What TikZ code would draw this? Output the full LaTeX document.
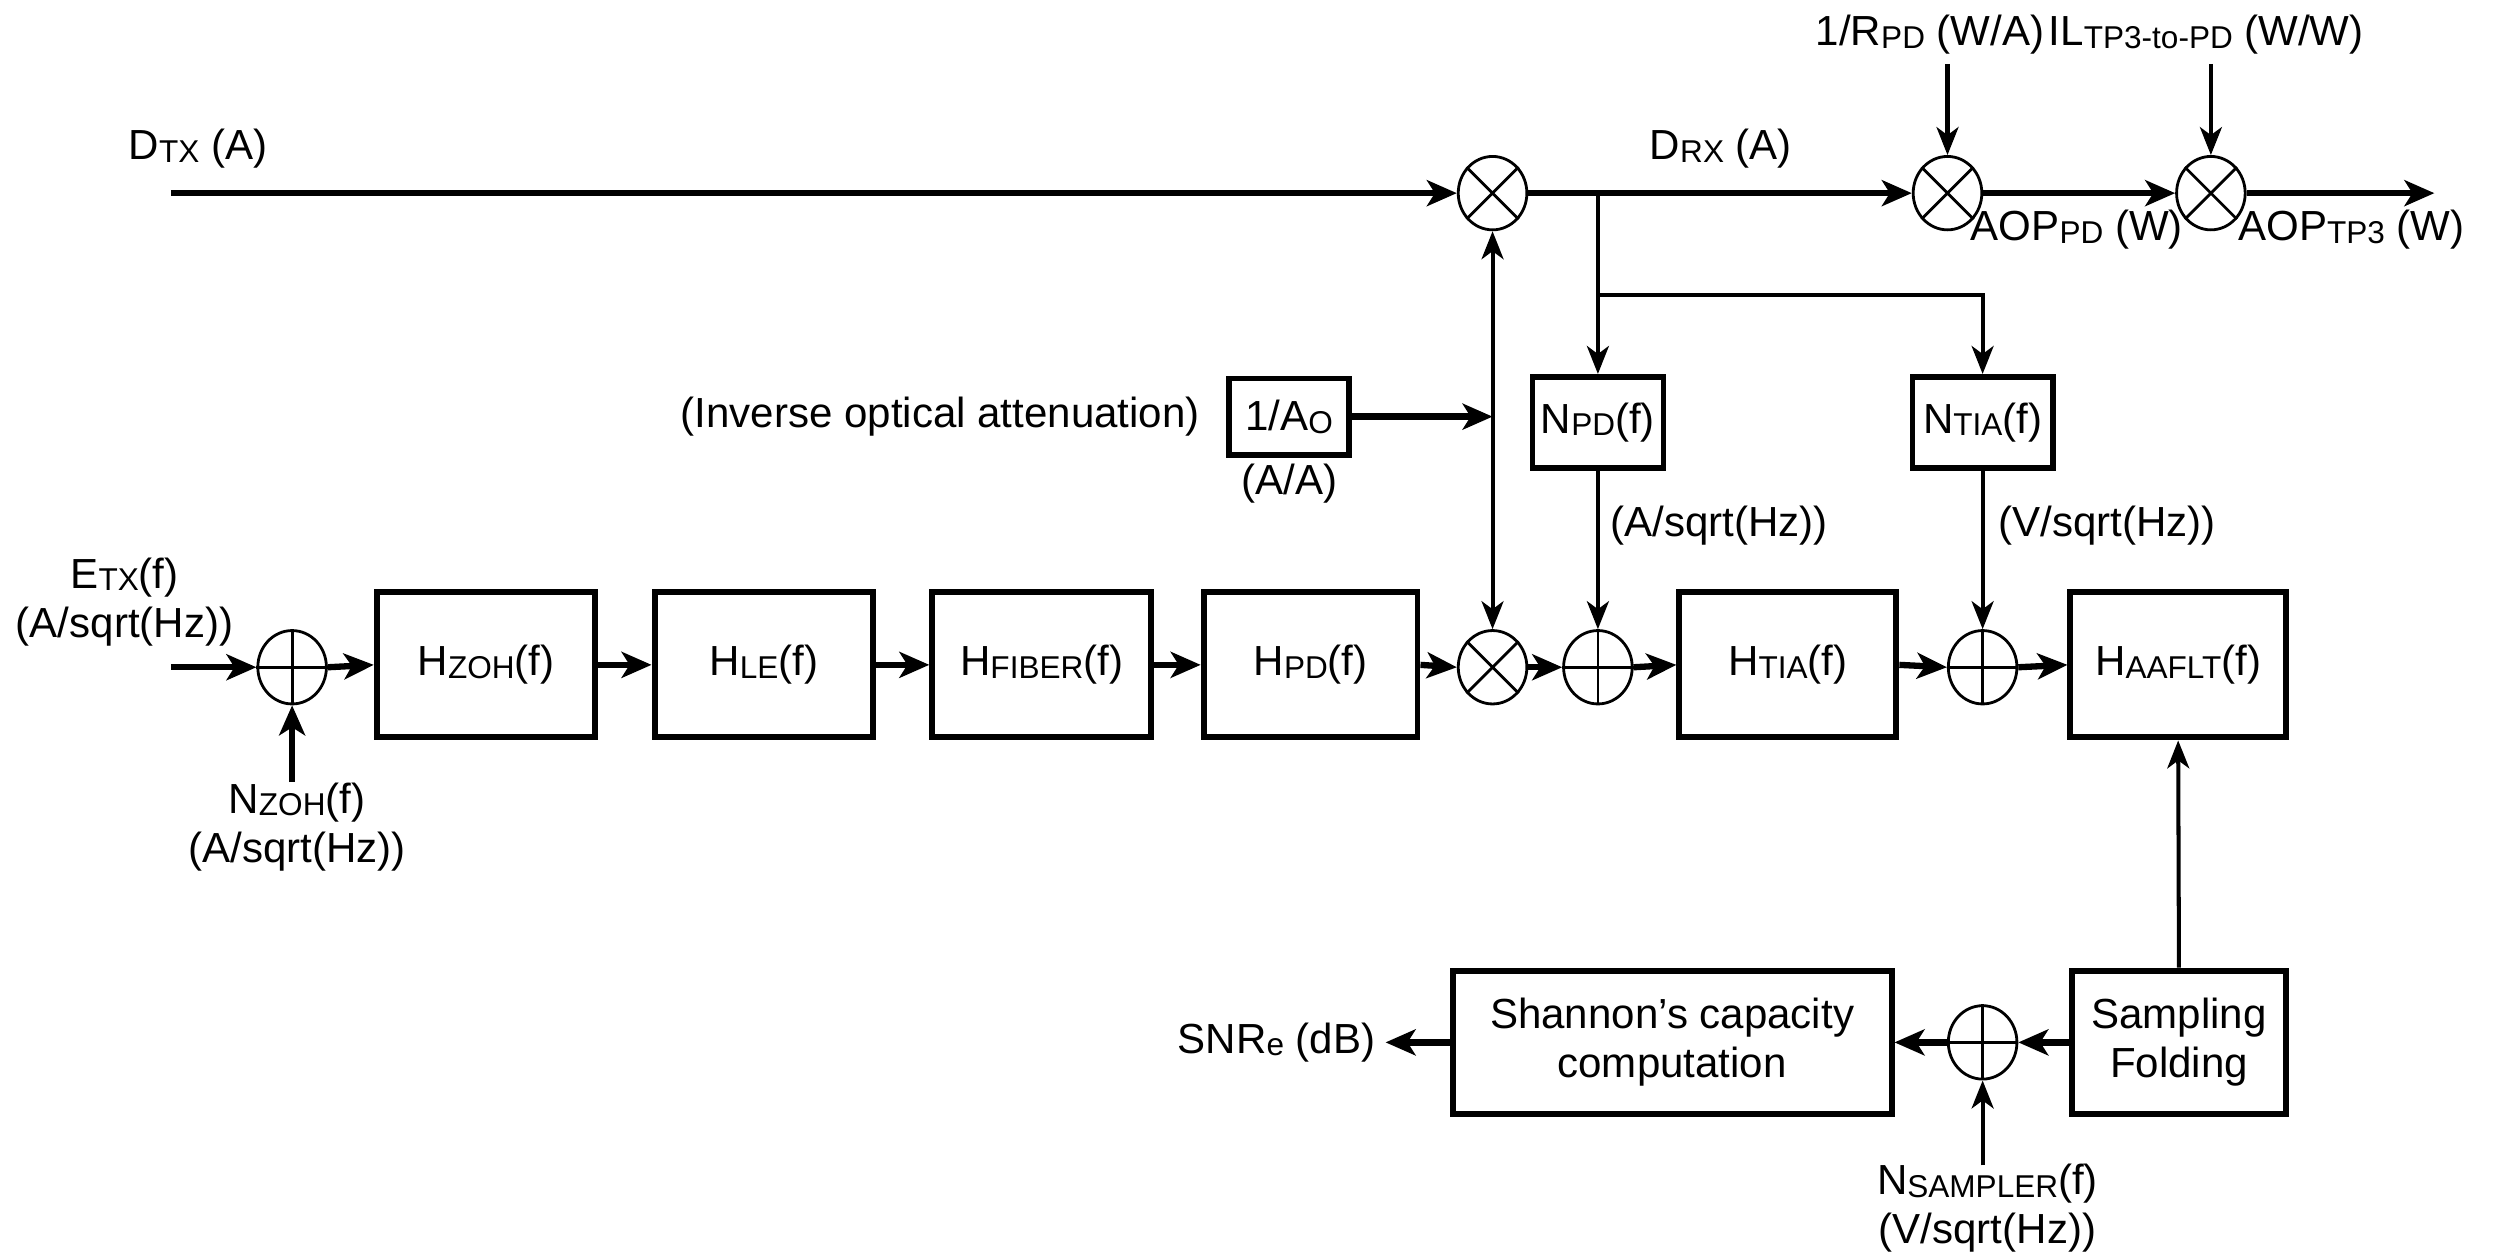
\documentclass[tikz,border=0pt]{standalone}
\usepackage{fontspec}
\setmainfont{Liberation Sans}
\usetikzlibrary{shapes.geometric,arrows.meta,calc}
\newcommand\ssub[1]{\raisebox{-0.12ex}{\fontsize{9}{9}\selectfont #1}}
\begin{document}
\begin{tikzpicture}[x=0.016cm,y=-0.016cm,
  every node/.style={font=\fontsize{12}{14}\selectfont, inner sep=0pt},
  blk/.style={draw, line width=1.7pt, minimum height=1.456cm, align=center},
  sbox/.style={draw, line width=1.6pt},
  op/.style={draw, ellipse, line width=0.8pt, minimum width=0.688cm, minimum height=0.736cm},
  thk/.style={line width=1.8pt, -{Stealth[length=0.3cm,width=0.26cm,inset=0.08cm]}},
  thn/.style={line width=1.15pt, -{Stealth[length=0.28cm,width=0.22cm,inset=0.08cm]}},
  lbl/.style={align=center},
  crossline/.style={line width=0.8pt}
]
\useasboundingbox[fill=white] (0,0) rectangle (1568,787);

% ---- top row ----
\node[op] (mt) at (935,121) {};
\node[op] (mr) at (1220,121) {};
\node[op] (mi) at (1385,121) {};
\foreach \n in {mt,mr,mi}{\draw[crossline] (\n.45)--(\n.225) (\n.135)--(\n.315);}
\coordinate (dtxs) at (107,121);
\coordinate (aope) at (1525,121);
\coordinate (rpds) at (1220,40);
\coordinate (ils) at (1385,40);
\node (dtx) at (124,93) {D\ssub{TX} (A)};
\node (drx) at (1078,93) {D\ssub{RX} (A)};
\node[anchor=east] (rpd) at (1281,22) {1/R\ssub{PD} (W/A)};
\node[anchor=west] (il) at (1283,22) {IL\ssub{TP3-to-PD} (W/W)};
\node (aoppd) at (1301,144) {AOP\ssub{PD} (W)};
\node (aoptp) at (1473,144) {AOP\ssub{TP3} (W)};

% ---- attenuation and noise boxes ----
\node[sbox, minimum width=1.2cm, minimum height=0.768cm] (ao) at (807.5,261) {1/A\ssub{O}};
\node[anchor=east] (aolbl) at (752,261) {(Inverse optical attenuation)};
\node (aa) at (808,303) {(A/A)};
\node[sbox, minimum width=1.312cm, minimum height=0.912cm] (npd) at (1001,264.5) {N\ssub{PD}(f)};
\node[sbox, minimum width=1.408cm, minimum height=0.912cm] (ntia) at (1242,264.5) {N\ssub{TIA}(f)};
\node (npdu) at (1077,329) {(A/sqrt(Hz))};
\node (ntiau) at (1320,329) {(V/sqrt(Hz))};

% ---- main row ----
\node[op] (a1) at (183,418) {};
\node[blk, minimum width=2.192cm] (hzoh) at (304.5,416.5) {H\ssub{ZOH}(f)};
\node[blk, minimum width=2.192cm] (hle) at (478.5,416.5) {H\ssub{LE}(f)};
\node[blk, minimum width=2.192cm] (hfib) at (652.5,416.5) {H\ssub{FIBER}(f)};
\node[blk, minimum width=2.144cm] (hpd) at (821,416.5) {H\ssub{PD}(f)};
\node[op] (mm) at (935,418) {};
\node[op] (a2) at (1001,418) {};
\node[blk, minimum width=2.176cm] (htia) at (1120,416.5) {H\ssub{TIA}(f)};
\node[op] (a3) at (1242,418) {};
\node[blk, minimum width=2.16cm] (haaf) at (1364.5,416.5) {H\ssub{AAFLT}(f)};
\foreach \n in {a1,a2,a3}{\draw[crossline] (\n.north)--(\n.south) (\n.east)--(\n.west);}
\draw[crossline] (mm.45)--(mm.225) (mm.135)--(mm.315);
\coordinate (etxs) at (107,418);
\coordinate (nzohs) at (183,490);
\node[lbl] (etx) at (78,377) {E\ssub{TX}(f)\\(A/sqrt(Hz))};
\node[lbl] (nzoh) at (186,518) {N\ssub{ZOH}(f)\\(A/sqrt(Hz))};

% ---- bottom row ----
\node[blk, minimum width=2.144cm, minimum height=1.44cm] (samp) at (1365,653) {Sampling\\Folding};
\node[op] (a4) at (1242,653) {};
\draw[crossline] (a4.north)--(a4.south) (a4.east)--(a4.west);
\node[blk, minimum width=4.4cm, minimum height=1.44cm] (shan) at (1047.5,653) {Shannon’s capacity\\computation};
\coordinate (snre) at (868,653);
\node[anchor=east] (snr) at (862,653) {SNR\ssub{e} (dB)};
\coordinate (nsamps) at (1242,730);
\node[lbl] (nsamp) at (1245,757) {N\ssub{SAMPLER}(f)\\(V/sqrt(Hz))};

% ---- connectors ----
\draw[thk] (dtxs) -- (mt.west);
\draw[thk] (mt.east) -- (mr.west);
\draw[thk] (mr.east) -- (mi.west);
\draw[thk] (mi.east) -- (aope);
\draw[thn] (rpds) -- (mr.north);
\draw[thn] (ils) -- (mi.north);
\coordinate (br) at (npd.north |- mt.east);
\coordinate (br2) at (npd.north |- 0,185);
\draw[thn] (br) -- (npd.north);
\draw[thn] (br2) -| (ntia.north);
\draw[thk] (ao.east) -- (ao.east -| mt.south);
\draw[line width=1.15pt, {Stealth[length=0.28cm,width=0.22cm,inset=0.08cm]}-{Stealth[length=0.28cm,width=0.22cm,inset=0.08cm]}] (mt.south) -- (mm.north);
\draw[thn] (npd.south) -- (a2.north);
\draw[thn] (ntia.south) -- (a3.north);

\draw[thk] (etxs) -- (a1.west);
\draw[thk] (nzohs) -- (a1.south);
\draw[thk] (a1.east) -- (hzoh.west);
\draw[thk] (hzoh.east) -- (hle.west);
\draw[thk] (hle.east) -- (hfib.west);
\draw[thk] (hfib.east) -- (hpd.west);
\draw[thk] (hpd.east) -- (mm.west);
\draw[thk] (mm.east) -- (a2.west);
\draw[thk] (a2.east) -- (htia.west);
\draw[thk] (htia.east) -- (a3.west);
\draw[thk] (a3.east) -- (haaf.west);

\draw[thn] (samp.north) -- (haaf.south);
\draw[thk] (samp.west) -- (a4.east);
\draw[thk] (a4.west) -- (shan.east);
\draw[thk] (shan.west) -- (snre);
\draw[thn] (nsamps) -- (a4.south);
\end{tikzpicture}
\end{document}
